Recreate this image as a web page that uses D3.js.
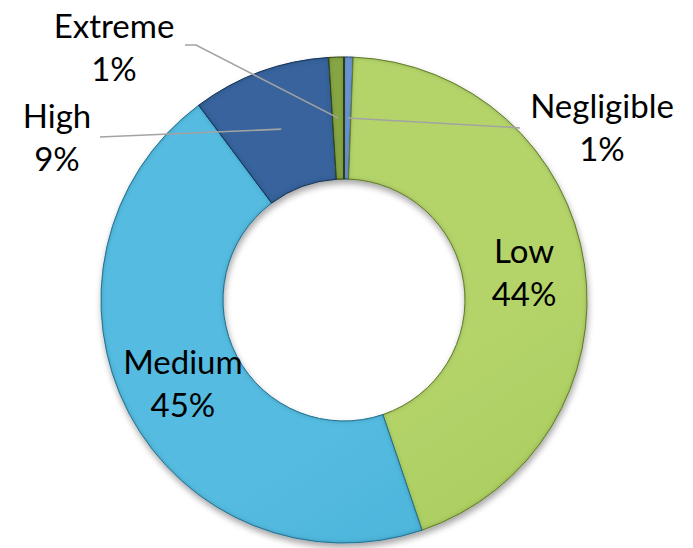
<!DOCTYPE html>
<html lang="en">
<head>
  <meta charset="UTF-8">
  <title>Risk Rating Donut</title>
  <style>
    body {
      margin: 0;
      background: #fff;
    }
    #chart text {
      font-family: Lato, "Open Sans", sans-serif;
      font-size: 33px;
      fill: #000;
    }
    .leader {
      fill: none;
      stroke: #a3a3a3;
      stroke-width: 1.6px;
    }
  </style>
</head>
<body>
<div id="chart"></div>

<script src="https://d3js.org/d3.v7.min.js"></script>
<script>
  // slices, clockwise from 12 o'clock
  const categories = ['Negligible', 'Low', 'Medium', 'High', 'Extreme'];
  const shares = [0.6, 44.2, 45.0, 9.2, 1.0];
  const pctLabels = ['1%', '44%', '45%', '9%', '1%'];

  // light (top) / dark (bottom) fill and edge per slice
  const lightColors = ['#6a95d4', '#b4d46a', '#55bbe0', '#38639c', '#86a645'];
  const darkColors = ['#4b78bd', '#98bd48', '#36a3cc', '#274e7d', '#627f28'];
  const edgeColors = ['#2f4f80', '#6d8a30', '#2a7fa3', '#1b3a60', '#3c4f16'];

  const W = 693, H = 548;
  const cx = 344, cy = 300;
  const outerR = 243, innerR = 121;

  // outside labels: where the label block sits and the leader path back to the slice
  const outside = {
    Negligible: { x: 602, y: 118, line: [[520, 128], [506, 127]] },
    High: { x: 57, y: 128, line: [[100, 137]] },
    Extreme: { x: 114, y: 38, line: [[185, 45], [196, 45]] }
  };

  const data = categories.map((c, i) => ({ name: c, value: shares[i], pct: pctLabels[i], i: i }));

  const svg = d3.select("#chart")
    .append("svg")
    .attr("width", W)
    .attr("height", H);

  const defs = svg.append("defs");

  data.forEach(d => {
    const g = defs.append("linearGradient")
      .attr("id", "grad" + d.i)
      .attr("gradientUnits", "userSpaceOnUse")
      .attr("x1", cx - outerR).attr("y1", cy - outerR)
      .attr("x2", cx + outerR * 0.3).attr("y2", cy + outerR);
    g.append("stop").attr("offset", "0%").attr("stop-color", lightColors[d.i]);
    g.append("stop").attr("offset", "100%").attr("stop-color", darkColors[d.i]);
  });

  // soft shadow under the ring
  const shadow = defs.append("filter")
    .attr("id", "shadow")
    .attr("x", "-10%").attr("y", "-10%")
    .attr("width", "120%").attr("height", "125%");
  shadow.append("feDropShadow")
    .attr("dx", 1).attr("dy", 4)
    .attr("stdDeviation", 3)
    .attr("flood-color", "#000")
    .attr("flood-opacity", 0.35);

  // inner bevel: darken the slice edges a little
  const bevel = defs.append("filter").attr("id", "bevel");
  bevel.append("feGaussianBlur").attr("in", "SourceAlpha").attr("stdDeviation", 2.5).attr("result", "blur");
  bevel.append("feComposite").attr("in", "SourceAlpha").attr("in2", "blur")
    .attr("operator", "out").attr("result", "rim");
  bevel.append("feFlood").attr("flood-color", "#000").attr("flood-opacity", 0.5);
  bevel.append("feComposite").attr("in2", "rim").attr("operator", "in").attr("result", "rimShade");
  const merge = bevel.append("feMerge");
  merge.append("feMergeNode").attr("in", "SourceGraphic");
  merge.append("feMergeNode").attr("in", "rimShade");

  const pie = d3.pie()
    .sort(null)
    .value(d => d.value);

  const arc = d3.arc()
    .innerRadius(innerR)
    .outerRadius(outerR);

  const arcs = pie(data);

  const ring = svg.append("g")
    .attr("transform", "translate(" + cx + "," + cy + ")")
    .attr("filter", "url(#shadow)");

  ring.selectAll("path")
    .data(arcs)
    .enter().append("path")
    .attr("d", arc)
    .attr("fill", d => "url(#grad" + d.data.i + ")")
    .attr("stroke", d => edgeColors[d.data.i])
    .attr("stroke-width", 1)
    .attr("filter", "url(#bevel)");

  // the thin dark divider between Extreme and Negligible
  ring.append("line")
    .attr("x1", 0).attr("y1", -innerR)
    .attr("x2", 0).attr("y2", -outerR)
    .attr("stroke", "#2f3d12")
    .attr("stroke-width", 2);

  const lineHeight = 43;
  const labels = svg.append("g");

  arcs.forEach(a => {
    const d = a.data;
    const c = arc.centroid(a);
    const px = cx + c[0], py = cy + c[1];
    let tx, ty;
    if (outside[d.name]) {
      const o = outside[d.name];
      const pts = o.line.concat([[px, py]]);
      labels.append("path")
        .attr("class", "leader")
        .attr("d", d3.line()(pts));
      tx = o.x;
      ty = o.y;
    } else {
      // inside labels sit on the slice centroid
      tx = px;
      ty = py - lineHeight / 2 + 11;
    }
    const t = labels.append("text")
      .attr("text-anchor", "middle")
      .attr("x", tx)
      .attr("y", ty);
    t.append("tspan").attr("x", tx).text(d.name);
    t.append("tspan").attr("x", tx).attr("dy", lineHeight).text(d.pct);
  });
</script>
</body>
</html>
